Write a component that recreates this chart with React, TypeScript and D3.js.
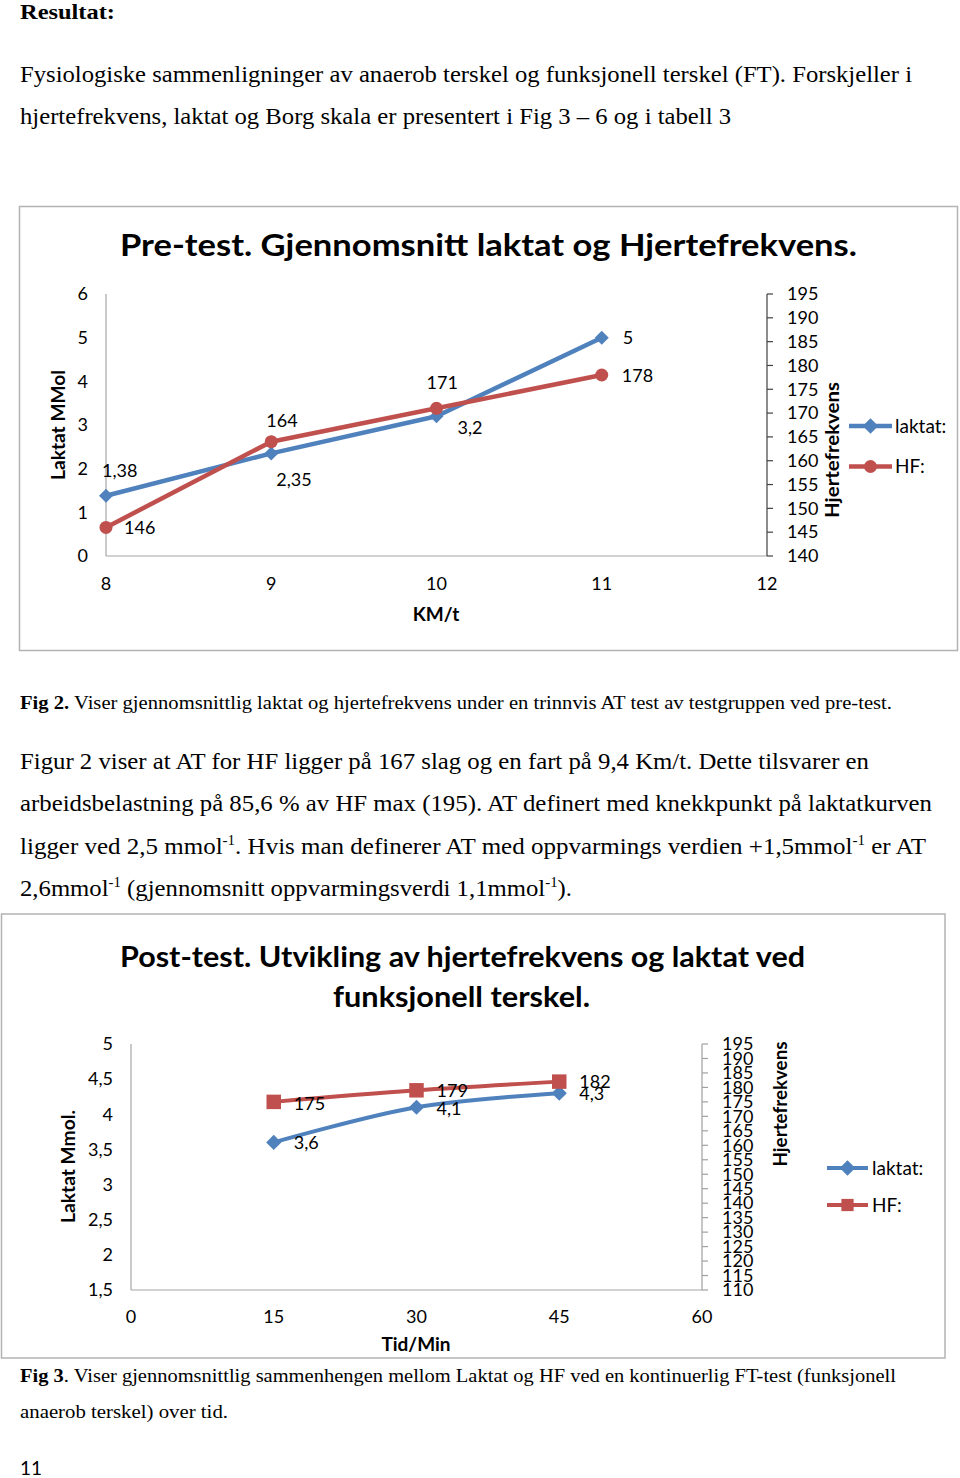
import * as d3 from "d3";

// Pre-test (Fig 2)
const preSpeed = [8, 9, 10, 11];
const preLaktat = [1.38, 2.35, 3.2, 5];
const preHF = [146, 164, 171, 178];
const preXTicks = [8, 9, 10, 11, 12];
const preLeftTicks = [0, 1, 2, 3, 4, 5, 6];
const preRightTicks = [140, 145, 150, 155, 160, 165, 170, 175, 180, 185, 190, 195];

// Post-test (Fig 3)
const postTime = [15, 30, 45];
const postLaktat = [3.6, 4.1, 4.3];
const postHF = [175, 179, 182];
const postXTicks = [0, 15, 30, 45, 60];
const postLeftTicks = [1.5, 2, 2.5, 3, 3.5, 4, 4.5, 5];
const postRightTicks = [110, 115, 120, 125, 130, 135, 140, 145, 150, 155, 160, 165, 170, 175, 180, 185, 190, 195];

const BLUE = "#4F81BD";
const RED = "#C0504D";
const SANS = "Lato, 'Open Sans', sans-serif";
const SERIF = "'Liberation Serif', 'Times New Roman', serif";

const no = d3.formatLocale({ decimal: ",", thousands: "\u00a0", grouping: [3], currency: ["", ""] });
const fmt = no.format("~g");

type Seg = { t: string; b?: boolean; sup?: boolean };
type Line = { y: number; size: number; w: number; segs: Seg[]; sans?: boolean };

const pageLines: Line[] = [
  { y: 19, size: 21, w: 95, segs: [{ t: "Resultat:", b: true }] },
  { y: 82, size: 24, w: 892, segs: [{ t: "Fysiologiske sammenligninger av anaerob terskel og funksjonell terskel (FT). Forskjeller i" }] },
  { y: 124, size: 24, w: 711, segs: [{ t: "hjertefrekvens, laktat og Borg skala er presentert i Fig 3 \u2013 6 og i tabell 3" }] },
  { y: 709, size: 18, w: 872, segs: [{ t: "Fig 2.", b: true }, { t: " Viser gjennomsnittlig laktat og hjertefrekvens under en trinnvis AT test av testgruppen ved pre-test." }] },
  { y: 769, size: 23, w: 849, segs: [{ t: "Figur 2 viser at AT for HF ligger på 167 slag og en fart på 9,4 Km/t. Dette tilsvarer en" }] },
  { y: 811, size: 23, w: 912, segs: [{ t: "arbeidsbelastning på 85,6 % av HF max (195). AT definert med knekkpunkt på laktatkurven" }] },
  {
    y: 854, size: 23, w: 906,
    segs: [
      { t: "ligger ved 2,5 mmol" }, { t: "-1", sup: true },
      { t: ". Hvis man definerer AT med oppvarmings verdien +1,5mmol" }, { t: "-1", sup: true }, { t: " er AT" },
    ],
  },
  {
    y: 896, size: 23, w: 552,
    segs: [
      { t: "2,6mmol" }, { t: "-1", sup: true }, { t: " (gjennomsnitt oppvarmingsverdi 1,1mmol" }, { t: "-1", sup: true }, { t: ")." },
    ],
  },
  { y: 1382, size: 18, w: 876, segs: [{ t: "Fig 3", b: true }, { t: ". Viser gjennomsnittlig sammenhengen mellom Laktat og HF ved en kontinuerlig FT-test (funksjonell" }] },
  { y: 1418, size: 18, w: 208, segs: [{ t: "anaerob terskel) over tid." }] },
  { y: 1475, size: 20, w: 22, sans: true, segs: [{ t: "11" }] },
];

function PageLine({ l }: { l: Line }) {
  const shift = l.size * 0.4;
  let raised = false;
  return (
    <text
      x={20}
      y={l.y}
      fontFamily={l.sans ? SANS : SERIF}
      fontSize={l.size}
      textLength={l.w}
      lengthAdjust="spacingAndGlyphs"
      fill="#000"
    >
      {l.segs.map((s, i) => {
        let dy = 0;
        if (s.sup && !raised) { dy = -shift; raised = true; }
        else if (!s.sup && raised) { dy = shift; raised = false; }
        return (
          <tspan key={i} dy={dy || undefined} fontWeight={s.b ? "bold" : undefined} fontSize={s.sup ? l.size * 0.6 : undefined}>
            {s.t}
          </tspan>
        );
      })}
    </text>
  );
}

type Cfg = {
  box: [number, number, number, number];
  x: d3.ScaleLinear<number, number>;
  yL: d3.ScaleLinear<number, number>;
  yR: d3.ScaleLinear<number, number>;
  xs: number[];
  lak: number[];
  hf: number[];
  xTicks: number[];
  lTicks: number[];
  rTicks: number[];
  hfMarker: "circle" | "square";
  smooth: boolean;
  title: { t: string; x: number; y: number; size: number; w: number }[];
  xTitle: { t: string; x: number; y: number };
  yLTitle: { t: string; x: number; y: number; w: number };
  yRTitle: { t: string; x: number; y: number; w: number };
  legend: { x1: number; x2: number; y1: number; y2: number; tx: number };
  lakOff: [number, number][];
  hfOff: [number, number][];
  xLabelY: number;
  lineW: number;
  rightAxisColor: string;
};

const pre: Cfg = {
  box: [19.5, 206.5, 938, 444],
  x: d3.scaleLinear().domain([8, 12]).range([106, 767]),
  yL: d3.scaleLinear().domain([0, 6]).range([556, 294]),
  yR: d3.scaleLinear().domain([140, 195]).range([556, 294]),
  xs: preSpeed,
  lak: preLaktat,
  hf: preHF,
  xTicks: preXTicks,
  lTicks: preLeftTicks,
  rTicks: preRightTicks,
  hfMarker: "circle",
  smooth: false,
  title: [{ t: "Pre-test. Gjennomsnitt laktat og Hjertefrekvens.", x: 488.5, y: 256, size: 30, w: 737 }],
  xTitle: { t: "KM/t", x: 436, y: 621 },
  yLTitle: { t: "Laktat MMol", x: 58.5, y: 425, w: 110 },
  yRTitle: { t: "Hjertefrekvens", x: 832.5, y: 450, w: 136 },
  legend: { x1: 849, x2: 892, y1: 426, y2: 466.5, tx: 895 },
  lakOff: [[-4, -19], [5, 33], [21, 18], [21, 6]],
  hfOff: [[18, 7], [-5, -15], [-10, -19], [20, 7]],
  xLabelY: 589.5,
  lineW: 4.5,
  rightAxisColor: "#404040",
};

const post: Cfg = {
  box: [1.5, 914, 943.5, 444],
  x: d3.scaleLinear().domain([0, 60]).range([131, 702]),
  yL: d3.scaleLinear().domain([1.5, 5]).range([1290, 1044]),
  yR: d3.scaleLinear().domain([110, 195]).range([1290, 1044]),
  xs: postTime,
  lak: postLaktat,
  hf: postHF,
  xTicks: postXTicks,
  lTicks: postLeftTicks,
  rTicks: postRightTicks,
  hfMarker: "square",
  smooth: true,
  title: [
    { t: "Post-test. Utvikling av hjertefrekvens og laktat ved", x: 462.5, y: 967, size: 28, w: 685 },
    { t: "funksjonell terskel.", x: 461.5, y: 1007, size: 28, w: 257 },
  ],
  xTitle: { t: "Tid/Min", x: 416, y: 1351 },
  yLTitle: { t: "Laktat Mmol.", x: 68, y: 1166.5, w: 113 },
  yRTitle: { t: "Hjertefrekvens", x: 780.5, y: 1104, w: 125 },
  legend: { x1: 827, x2: 868, y1: 1168, y2: 1205, tx: 872 },
  lakOff: [[20, 7], [20, 8], [20, 7]],
  hfOff: [[20, 8], [20, 7], [20, 6]],
  xLabelY: 1323,
  lineW: 4,
  rightAxisColor: "#a0a0a0",
};

const diamondPath = d3.symbol(d3.symbolSquare, 98)()!;
const diamondPost = d3.symbol(d3.symbolSquare, 115)()!;
const diamondLegend = d3.symbol(d3.symbolSquare, 120)()!;
const circlePath = d3.symbol(d3.symbolCircle, 133)()!;
const squarePath = d3.symbol(d3.symbolSquare, 210)()!;
const squareLegend = d3.symbol(d3.symbolSquare, 150)()!;

function Chart({ c }: { c: Cfg }) {
  const [bx, by, bw, bh] = c.box;
  const [x0, x1] = c.x.range();
  const [yb, yt] = c.yL.range();
  const lakPts = c.xs.map((v, i) => [c.x(v), c.yL(c.lak[i])] as [number, number]);
  const hfPts = c.xs.map((v, i) => [c.x(v), c.yR(c.hf[i])] as [number, number]);
  const line = d3.line().curve(c.smooth ? d3.curveCatmullRom.alpha(0.5) : d3.curveLinear);
  const hfShape = c.hfMarker === "circle" ? circlePath : squarePath;
  const hfLegendShape = c.hfMarker === "circle" ? circlePath : squareLegend;
  const lakShape = c.smooth ? diamondPost : diamondPath;
  const axisGray = "#a6a6a6";
  return (
    <g fontFamily={SANS}>
      <rect x={bx} y={by} width={bw} height={bh} fill="#fff" stroke="#b3b3b3" strokeWidth={1.5} />
      {c.title.map((t, i) => (
        <text key={i} x={t.x} y={t.y} textAnchor="middle" fontSize={t.size} fontWeight="bold"
          textLength={t.w} lengthAdjust="spacingAndGlyphs">{t.t}</text>
      ))}
      {/* axes */}
      <line x1={x0} x2={x0} y1={yt} y2={yb} stroke={axisGray} strokeWidth={1.2} />
      <line x1={x0} x2={x1} y1={yb} y2={yb} stroke={axisGray} strokeWidth={1.2} />
      <line x1={x1} x2={x1} y1={yt} y2={yb} stroke={c.rightAxisColor} strokeWidth={1.2} />
      {c.rTicks.map((t) => (
        <line key={t} x1={x1} x2={x1 + 6} y1={c.yR(t)} y2={c.yR(t)} stroke={c.rightAxisColor} strokeWidth={1.2} />
      ))}
      {c.lTicks.map((t) => (
        <text key={t} x={x0 - 18} y={c.yL(t)} dy="0.35em" textAnchor="end" fontSize={18}>{fmt(t)}</text>
      ))}
      {c.rTicks.map((t) => (
        <text key={t} x={x1 + 20} y={c.yR(t)} dy="0.35em" fontSize={18}>{fmt(t)}</text>
      ))}
      {c.xTicks.map((t) => (
        <text key={t} x={c.x(t)} y={c.xLabelY} textAnchor="middle" fontSize={18}>{fmt(t)}</text>
      ))}
      <text x={c.xTitle.x} y={c.xTitle.y} textAnchor="middle" fontSize={19} fontWeight="bold">{c.xTitle.t}</text>
      <text transform={`translate(${c.yLTitle.x},${c.yLTitle.y}) rotate(-90)`} dy="0.35em" textAnchor="middle"
        fontSize={19} fontWeight="bold" textLength={c.yLTitle.w} lengthAdjust="spacingAndGlyphs">{c.yLTitle.t}</text>
      <text transform={`translate(${c.yRTitle.x},${c.yRTitle.y}) rotate(-90)`} dy="0.35em" textAnchor="middle"
        fontSize={19} fontWeight="bold" textLength={c.yRTitle.w} lengthAdjust="spacingAndGlyphs">{c.yRTitle.t}</text>
      {/* series */}
      <path d={line(lakPts)!} fill="none" stroke={BLUE} strokeWidth={c.lineW} strokeLinejoin="round" />
      {lakPts.map(([px, py], i) => (
        <path key={i} d={lakShape} transform={`translate(${px},${py}) rotate(45)`} fill={BLUE} />
      ))}
      <path d={line(hfPts)!} fill="none" stroke={RED} strokeWidth={c.lineW} strokeLinejoin="round" />
      {hfPts.map(([px, py], i) => (
        <path key={i} d={hfShape} transform={`translate(${px},${py})`} fill={RED} />
      ))}
      {/* data labels */}
      {lakPts.map(([px, py], i) => (
        <text key={i} x={px + c.lakOff[i][0]} y={py + c.lakOff[i][1]} fontSize={18}>{fmt(c.lak[i])}</text>
      ))}
      {hfPts.map(([px, py], i) => (
        <text key={i} x={px + c.hfOff[i][0]} y={py + c.hfOff[i][1]} fontSize={18}>{fmt(c.hf[i])}</text>
      ))}
      {/* legend */}
      <line x1={c.legend.x1} x2={c.legend.x2} y1={c.legend.y1} y2={c.legend.y1} stroke={BLUE} strokeWidth={c.lineW} />
      <path d={diamondLegend} transform={`translate(${(c.legend.x1 + c.legend.x2) / 2},${c.legend.y1}) rotate(45)`} fill={BLUE} />
      <text x={c.legend.tx} y={c.legend.y1} dy="0.35em" fontSize={19}>laktat:</text>
      <line x1={c.legend.x1} x2={c.legend.x2} y1={c.legend.y2} y2={c.legend.y2} stroke={RED} strokeWidth={c.lineW} />
      <path d={hfLegendShape} transform={`translate(${(c.legend.x1 + c.legend.x2) / 2},${c.legend.y2})`} fill={RED} />
      <text x={c.legend.tx} y={c.legend.y2} dy="0.35em" fontSize={19}>HF:</text>
    </g>
  );
}

export default function App() {
  return (
    <svg width={960} height={1478} style={{ position: "absolute", left: 0, top: 0, background: "#fff" }}>
      <rect width={960} height={1478} fill="#fff" />
      {pageLines.map((l, i) => (
        <PageLine key={i} l={l} />
      ))}
      <Chart c={pre} />
      <Chart c={post} />
    </svg>
  );
}
